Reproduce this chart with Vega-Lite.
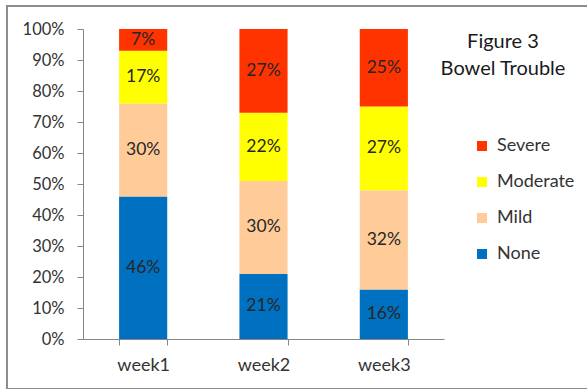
{
  "$schema": "https://vega.github.io/schema/vega-lite/v6.json",
  "width": 590,
  "height": 383,
  "padding": {"left": 7, "top": 6, "right": 0, "bottom": 0},
  "autosize": {"type": "none"},
  "background": "white",
  "title": {
    "text": ["Figure 3", "Bowel Trouble"],
    "frame": "group",
    "anchor": "start",
    "align": "center",
    "baseline": "top",
    "orient": "top",
    "dx": 496,
    "dy": 77,
    "font": "Lato",
    "fontSize": 20,
    "fontWeight": "normal",
    "lineHeight": 27,
    "color": "#1a1a1a"
  },
  "config": {
    "view": {"stroke": "#8c8c8c", "strokeWidth": 2},
    "font": "Lato"
  },
  "data": {
    "values": [
      {"week": "week1", "severity": "None", "level": 0, "share": 0.46},
      {"week": "week1", "severity": "Mild", "level": 1, "share": 0.30},
      {"week": "week1", "severity": "Moderate", "level": 2, "share": 0.17},
      {"week": "week1", "severity": "Severe", "level": 3, "share": 0.07},
      {"week": "week2", "severity": "None", "level": 0, "share": 0.21},
      {"week": "week2", "severity": "Mild", "level": 1, "share": 0.30},
      {"week": "week2", "severity": "Moderate", "level": 2, "share": 0.22},
      {"week": "week2", "severity": "Severe", "level": 3, "share": 0.27},
      {"week": "week3", "severity": "None", "level": 0, "share": 0.16},
      {"week": "week3", "severity": "Mild", "level": 1, "share": 0.32},
      {"week": "week3", "severity": "Moderate", "level": 2, "share": 0.27},
      {"week": "week3", "severity": "Severe", "level": 3, "share": 0.25}
    ]
  },
  "encoding": {
    "x": {
      "field": "week",
      "type": "nominal",
      "title": null,
      "scale": {"range": [76, 437], "paddingInner": 0.6, "paddingOuter": 0.3},
      "axis": {
        "orient": "bottom",
        "offset": -50,
        "labelAngle": 0,
        "tickBand": "extent",
        "domainColor": "#868686",
        "tickColor": "#868686",
        "tickSize": 6,
        "labelPadding": 11,
        "labelFont": "Lato",
        "labelFontSize": 18,
        "labelColor": "#333333"
      }
    },
    "y": {
      "field": "share",
      "type": "quantitative",
      "stack": "zero",
      "title": null,
      "scale": {"domain": [0, 1], "range": [333, 23], "nice": false},
      "axis": {
        "orient": "left",
        "offset": -76,
        "values": [0, 0.1, 0.2, 0.3, 0.4, 0.5, 0.6, 0.7, 0.8, 0.9, 1],
        "format": ".0%",
        "grid": false,
        "domainColor": "#868686",
        "tickColor": "#868686",
        "tickSize": 6,
        "labelPadding": 13,
        "labelFont": "Lato",
        "labelFontSize": 16.5,
        "labelColor": "#333333"
      }
    },
    "order": {"field": "level", "type": "quantitative", "sort": "ascending"}
  },
  "layer": [
    {
      "mark": {"type": "bar"},
      "encoding": {
        "color": {
          "field": "severity",
          "type": "nominal",
          "scale": {
            "domain": ["Severe", "Moderate", "Mild", "None"],
            "range": ["#FF3300", "#FFFF00", "#FFCC99", "#0070C0"]
          },
          "legend": {
            "title": null,
            "orient": "none",
            "legendX": 466,
            "legendY": 131,
            "padding": 0,
            "symbolType": "square",
            "symbolSize": 100,
            "symbolStrokeWidth": 0,
            "symbolOpacity": 1,
            "labelOffset": 6,
            "labelFont": "Lato",
            "labelFontSize": 18,
            "labelColor": "#333333",
            "rowPadding": 18
          }
        }
      }
    },
    {
      "mark": {"type": "text", "font": "Lato", "fontSize": 17.5, "color": "#262626", "baseline": "middle"},
      "encoding": {
        "y": {"field": "share", "type": "quantitative", "stack": "zero", "bandPosition": 0.5},
        "text": {"field": "share", "type": "quantitative", "format": ".0%"}
      }
    }
  ]
}
